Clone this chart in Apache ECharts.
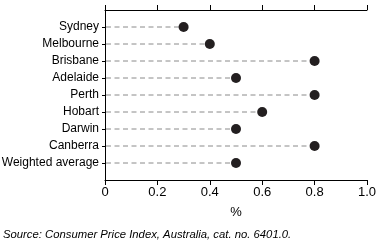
<!DOCTYPE html>
<html><head><meta charset="utf-8">
<script src="https://cdn.jsdelivr.net/npm/echarts@6/dist/echarts.min.js"></script>
<style>html,body{margin:0;padding:0;background:#fff}#c{width:385px;height:248px}</style>
</head><body><div id="c"></div>
<script>
const categories = ['Sydney','Melbourne','Brisbane','Adelaide','Perth','Hobart','Darwin','Canberra','Weighted average'];
const values = [0.3,0.4,0.8,0.5,0.8,0.6,0.5,0.8,0.5];
const xTickLabels = ['0','0.2','0.4','0.6','0.8','1.0'];
const xTitle = '%';
const sourceText = 'Source: Consumer Price Index, Australia, cat. no. 6401.0.';

const FONT = '"Liberation Sans", Arial, sans-serif';
const cats = [''].concat(categories, ['']);
const data = values.map((v,i)=>[v, categories[i]]);
const chart = echarts.init(document.getElementById('c'), null, {renderer:'canvas'});
chart.setOption({
  animation:false,
  grid:{left:105,right:18,top:10,bottom:68,containLabel:false,outerBoundsMode:'none'},
  xAxis:[{
    type:'value',min:0,max:1,interval:0.2,
    axisLine:{show:true,lineStyle:{color:'#000',width:1}},
    axisTick:{show:true,length:5,lineStyle:{color:'#000'}},
    axisLabel:{margin:6,color:'#000',fontSize:13,fontFamily:FONT,
      formatter:(v)=>xTickLabels[Math.round(v/0.2)]},
    splitLine:{show:false},
    name:xTitle,nameLocation:'middle',nameGap:26,
    nameTextStyle:{color:'#000',fontSize:13,fontFamily:FONT}
  },{
    type:'value',position:'top',min:0,max:1,interval:0.2,
    axisLine:{show:true,lineStyle:{color:'#000',width:1}},
    axisTick:{show:true,length:5,lineStyle:{color:'#000'}},
    axisLabel:{show:false},splitLine:{show:false}
  }],
  yAxis:[{
    type:'category',data:cats,inverse:true,boundaryGap:false,
    axisLine:{show:true,lineStyle:{color:'#000',width:1}},
    axisTick:{show:true,length:3,alignWithLabel:true,lineStyle:{color:'#000'},
      interval:(i)=>i>0&&i<cats.length-1},
    axisLabel:{margin:6,color:'#000',fontSize:12,fontFamily:FONT,
      interval:0},
    splitLine:{show:false}
  },{
    type:'category',data:cats,inverse:true,boundaryGap:false,position:'right',
    axisLine:{show:true,lineStyle:{color:'#000',width:1}},
    axisTick:{show:false},axisLabel:{show:false},splitLine:{show:false}
  }],
  series:[{
    type:'custom',
    data:data,
    encode:{x:0,y:1},
    renderItem:(params,api)=>{
      const end = api.coord([api.value(0), api.value(1)]);
      const start = api.coord([0, api.value(1)]);
      return {type:'line',shape:{x1:start[0]+1,y1:start[1],x2:end[0],y2:end[1]},
        style:{stroke:'#8a8a8a',lineWidth:1,lineDash:[5,3.5]}};
    },
    z:1
  },{
    type:'scatter',
    data:data,
    symbol:'circle',symbolSize:10,
    itemStyle:{color:'#231f20',opacity:1},
    z:2
  }],
  graphic:[{
    type:'text',left:3,top:229,
    style:{text:sourceText,fill:'#000',fontSize:11.3,fontStyle:'italic',fontFamily:FONT}
  }]
});
</script></body></html>
